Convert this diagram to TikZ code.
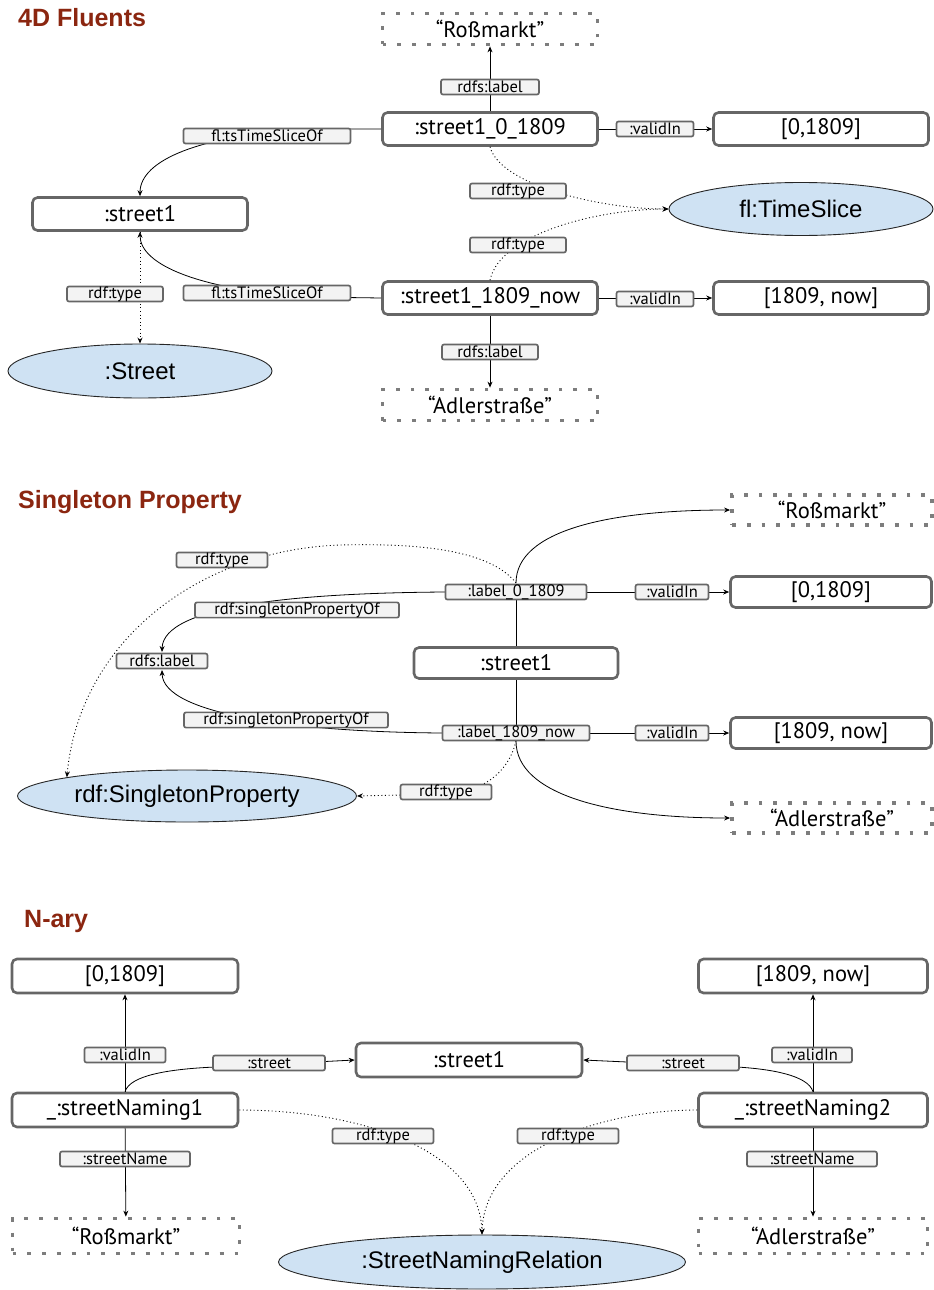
\documentclass[tikz,border=0pt]{standalone}
\usepackage{fontspec}
\usepackage{tikz}
\setmainfont{PT Sans}
\newfontfamily\arialfont{Liberation Sans}
\usetikzlibrary{positioning,arrows.meta,shapes.geometric}
\definecolor{frame}{HTML}{666666}
\definecolor{propbg}{HTML}{F3F3F3}
\definecolor{clsbg}{HTML}{CFE2F3}
\definecolor{heading}{HTML}{8B2610}

\begin{document}
\begin{tikzpicture}[
  x=1pt,y=-1pt,
  title/.style={anchor=west,inner sep=0pt,text=heading,
                font=\arialfont\bfseries\fontsize{25}{29}\selectfont},
  res/.style={draw=frame,line width=2.6pt,rounded corners=5pt,fill=white,
              inner sep=0pt,font=\fontsize{22.5}{26}\selectfont},
  lit/.style={draw=frame!85,line width=3.8pt,dash pattern=on 3.8pt off 11pt,fill=white,
              inner sep=0pt,font=\fontsize{22.5}{26}\selectfont},
  cls/.style={ellipse,draw=black!85,line width=0.9pt,fill=clsbg,inner sep=0pt,
              font=\arialfont\fontsize{24}{28}\selectfont},
  prop/.style={draw=frame,line width=1.7pt,rounded corners=2pt,fill=propbg,
               inner sep=0pt,minimum height=15pt,font=\fontsize{16.5}{18}\selectfont},
  ar/.style={-{Stealth[length=6pt,width=5pt]},draw=black,line width=0.8pt},
  ln/.style={draw=black,line width=0.8pt},
  typ/.style={-{Stealth[length=6pt,width=5pt]},draw=black,line width=0.9pt,
              dash pattern=on 1pt off 2.6pt}
]
\useasboundingbox (0,0) rectangle (934,1290);

% ---------------- 4D Fluents
\node[title] (a-title) at (18,18) {4D Fluents};
\node[lit,minimum width=215pt,minimum height=31pt] (a-ross) at (490,29) {“Roßmarkt”};
\node[res,minimum width=215pt,minimum height=33pt] (a-s0) at (490,129) {:street1\_0\_1809};
\node[res,minimum width=215pt,minimum height=33pt] (a-v0) at (821,129) {[0,1809]};
\node[cls,minimum width=264pt,minimum height=53pt] (a-ts) at (801,209) {fl:TimeSlice};
\node[res,minimum width=215pt,minimum height=33pt] (a-st) at (140,214) {:street1};
\node[res,minimum width=215pt,minimum height=33pt] (a-sn) at (490,298) {:street1\_1809\_now};
\node[res,minimum width=215pt,minimum height=33pt] (a-vn) at (821,298) {[1809, now]};
\node[cls,minimum width=264pt,minimum height=54pt] (a-street) at (140,371) {:Street};
\node[lit,minimum width=215pt,minimum height=31pt] (a-adler) at (490,405) {“Adlerstraße”};

\draw[ar] (a-s0) -- (a-ross);
\draw[ar] (a-s0) -- (a-v0);
\draw[ar] (a-sn) -- (a-vn);
\draw[ar] (a-sn) -- (a-adler);
\draw[ar] (a-s0.west) -- (310,129) .. controls (200,135) and (140,160) .. (a-st.north);
\draw[ar] (a-sn.west) -- (310,297) .. controls (200,290) and (140,265) .. (a-st.south);
\draw[typ] (a-st) -- (a-street);
\draw[typ] (a-s0.south) .. controls (500,185) and (600,209) .. (a-ts.west);
\draw[typ] (a-sn.north) .. controls (500,233) and (600,209) .. (a-ts.west);

\node[prop,minimum width=98pt] (a-p1) at (490,87) {rdfs:label};
\node[prop,minimum width=167pt] (a-p2) at (267,136) {fl:tsTimeSliceOf};
\node[prop,minimum width=77pt] (a-p3) at (655,129) {:validIn};
\node[prop,minimum width=96pt] (a-p4) at (518,191) {rdf:type};
\node[prop,minimum width=96pt] (a-p5) at (518,245) {rdf:type};
\node[prop,minimum width=96pt] (a-p6) at (115,294) {rdf:type};
\node[prop,minimum width=167pt] (a-p7) at (267,293) {fl:tsTimeSliceOf};
\node[prop,minimum width=77pt] (a-p8) at (655,299) {:validIn};
\node[prop,minimum width=96pt] (a-p9) at (490,352) {rdfs:label};

% ---------------- Singleton Property
\node[title] (b-title) at (18,502) {Singleton Property};
\node[lit,minimum width=200pt,minimum height=30pt] (b-ross) at (832,510) {“Roßmarkt”};
\node[res,minimum width=201pt,minimum height=31pt] (b-i0) at (831,592) {[0,1809]};
\node[res,minimum width=204pt,minimum height=31pt] (b-st) at (516,663) {:street1};
\node[res,minimum width=201pt,minimum height=31pt] (b-in) at (831,733) {[1809, now]};
\node[lit,minimum width=200pt,minimum height=30pt] (b-adler) at (832,818) {“Adlerstraße”};
\node[cls,minimum width=339pt,minimum height=52pt] (b-sp) at (187,796) {rdf:SingletonProperty};

\draw[ar] (516,583) .. controls (516,530) and (610,510) .. (b-ross.west);
\draw[ar] (516,741) .. controls (516,795) and (610,818) .. (b-adler.west);
\draw[ln] (516,592) -- (b-st);
\draw[ln] (b-st) -- (516,732);
\draw[ar] (516,592) -- (b-i0);
\draw[ar] (516,733) -- (b-in);
\draw[ar] (445,592) .. controls (300,593) and (163,605) .. (162,652);
\draw[ar] (442,733) .. controls (300,732) and (163,715) .. (162,670);
\draw[typ] (516,583) .. controls (490,550) and (420,543) .. (340,545)
                    .. controls (200,550) and (80,640) .. (b-sp.north west);
\draw[typ] (516,741) .. controls (508,775) and (480,792) .. (446,794) -- (b-sp.east);

\node[prop,minimum width=141pt] (b-l0) at (516,592) {:label\_0\_1809};
\node[prop,minimum width=147pt] (b-ln) at (516,733) {:label\_1809\_now};
\node[prop,minimum width=73pt] (b-v0) at (672,592) {:validIn};
\node[prop,minimum width=73pt] (b-vn) at (672,733) {:validIn};
\node[prop,minimum width=91pt] (b-t1) at (222,560) {rdf:type};
\node[prop,minimum width=91pt] (b-t2) at (446,792) {rdf:type};
\node[prop,minimum width=204pt] (b-of0) at (297,610) {rdf:singletonPropertyOf};
\node[prop,minimum width=91pt] (b-lab) at (162,661) {rdfs:label};
\node[prop,minimum width=204pt] (b-ofn) at (286,720) {rdf:singletonPropertyOf};

% ---------------- N-ary
\node[title] (c-title) at (24,921) {N-ary};
\node[res,minimum width=226pt,minimum height=34pt] (c-i0) at (125,976) {[0,1809]};
\node[res,minimum width=229pt,minimum height=34pt] (c-in) at (813,976) {[1809, now]};
\node[res,minimum width=226pt,minimum height=34pt] (c-st) at (469,1060) {:street1};
\node[res,minimum width=226pt,minimum height=34pt] (c-n1) at (125,1110) {\_:streetNaming1};
\node[res,minimum width=229pt,minimum height=34pt] (c-n2) at (813,1110) {\_:streetNaming2};
\node[lit,minimum width=227pt,minimum height=35pt] (c-ross) at (126,1236) {“Roßmarkt”};
\node[lit,minimum width=229pt,minimum height=35pt] (c-adler) at (813,1236) {“Adlerstraße”};
\node[cls,minimum width=407pt,minimum height=54pt] (c-rel) at (482,1262) {:StreetNamingRelation};

\draw[ar] (c-n1) -- (c-i0);
\draw[ar] (c-n1) -- (c-ross);
\draw[ar] (c-n2) -- (c-in);
\draw[ar] (c-n2) -- (c-adler);
\draw[ar] (c-n1.north) .. controls (130,1075) and (170,1069) .. (215,1067) -- (c-st.west);
\draw[ar] (c-n2.north) .. controls (808,1075) and (770,1069) .. (737,1067) -- (c-st.east);
\draw[typ] (c-n1.east) .. controls (360,1110) and (480,1150) .. (c-rel.north);
\draw[typ] (c-n2.west) .. controls (600,1110) and (484,1150) .. (c-rel.north);

\node[prop,minimum width=81pt] (c-v1) at (125,1055) {:validIn};
\node[prop,minimum width=112pt] (c-s1) at (269,1063) {:street};
\node[prop,minimum width=112pt] (c-s2) at (683,1063) {:street};
\node[prop,minimum width=80pt] (c-v2) at (812,1055) {:validIn};
\node[prop,minimum width=101pt] (c-t1) at (383,1136) {rdf:type};
\node[prop,minimum width=101pt] (c-t2) at (568,1136) {rdf:type};
\node[prop,minimum width=130pt] (c-nm1) at (125,1159) {:streetName};
\node[prop,minimum width=130pt] (c-nm2) at (812,1159) {:streetName};
\end{tikzpicture}
\end{document}
